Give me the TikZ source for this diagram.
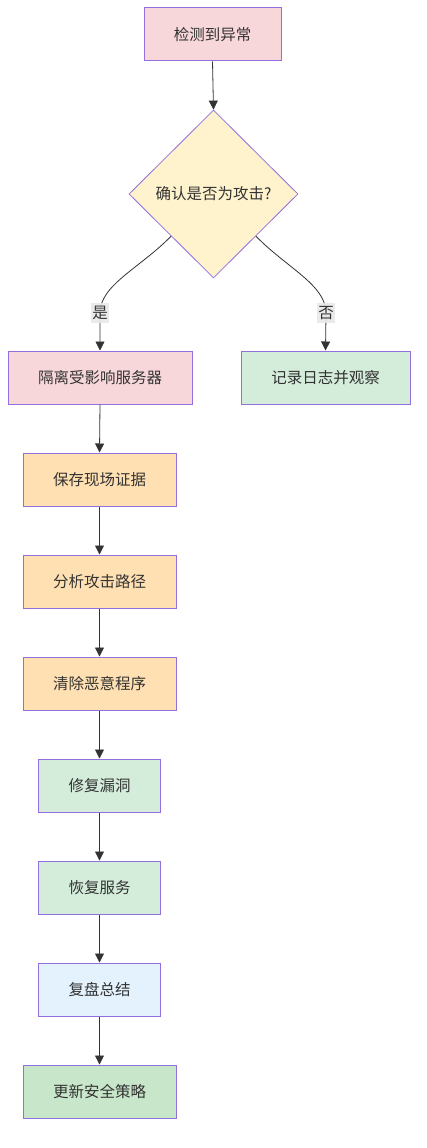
\documentclass[tikz,border=0pt]{standalone}
\usepackage{fontspec}
\setmainfont{Noto Sans CJK SC}
\usetikzlibrary{shapes.geometric,arrows.meta}
\definecolor{bord}{HTML}{9370DB}
\definecolor{txt}{HTML}{333333}
\definecolor{cpink}{HTML}{F8D7DA}
\definecolor{cyel}{HTML}{FFF3CD}
\definecolor{corange}{HTML}{FFE0B2}
\definecolor{cgreen}{HTML}{D4EDDA}
\definecolor{cblue}{HTML}{E3F2FD}
\definecolor{cgreen2}{HTML}{C8E6C9}
\definecolor{lblbg}{HTML}{E8E8E8}
\begin{document}
\begin{tikzpicture}[x=1pt,y=1pt,
  box/.style={draw=bord,line width=1pt,rectangle,minimum height=53pt,inner sep=0pt,
    font=\fontsize{15.5}{18}\selectfont,text=txt},
  dia/.style={draw=bord,line width=0.8pt,diamond,aspect=1,minimum width=169pt,minimum height=168pt,inner sep=0pt,
    fill=cyel,font=\fontsize{15.5}{18}\selectfont,text=txt},
  arr/.style={draw=txt,line width=0.8pt,-{Triangle[length=9pt,width=9pt]}},
  lbl/.style={fill=lblbg,fill opacity=0.9,text opacity=1,inner xsep=1.5pt,inner ysep=3pt,text=txt,font=\fontsize{15.5}{18}\selectfont}
]
\useasboundingbox (0,0) rectangle (426,-1148);
\node[box,fill=cpink,minimum width=137pt] (n1) at (212.5,-34.5) {检测到异常};
\node[dia] (d) at (213.5,-194) {确认是否为攻击?};
\node[box,fill=cpink,minimum width=184pt] (iso) at (100,-377.5) {隔离受影响服务器};
\node[box,fill=cgreen,minimum width=169pt] (log) at (325.5,-377.5) {记录日志并观察};
\node[box,fill=corange,minimum width=153pt] (save) at (99.5,-479.5) {保存现场证据};
\node[box,fill=corange,minimum width=153pt] (ana) at (99.5,-581.5) {分析攻击路径};
\node[box,fill=corange,minimum width=153pt] (clr) at (99.5,-683.5) {清除恶意程序};
\node[box,fill=cgreen,minimum width=122pt] (fix) at (99.5,-785.5) {修复漏洞};
\node[box,fill=cgreen,minimum width=122pt] (rec) at (99.5,-887.5) {恢复服务};
\node[box,fill=cblue,minimum width=122pt] (rev) at (99.5,-989.5) {复盘总结};
\node[box,fill=cgreen2,minimum width=153pt] (upd) at (99.5,-1091.5) {更新安全策略};
\coordinate (ly) at (100,-313);
\coordinate (ln) at (326,-313);
\draw[arr] (n1.south) -- (d.north);
\draw[arr] (d.south west) .. controls (140,-268) and (100,-285) .. (ly) -- (iso.north);
\draw[arr] (d.south east) .. controls (287,-268) and (326,-285) .. (ln) -- (log.north);
\node[lbl] at (ly) {是};
\node[lbl] at (ln) {否};
\draw[arr] (iso.south) -- (save.north);
\draw[arr] (save.south) -- (ana.north);
\draw[arr] (ana.south) -- (clr.north);
\draw[arr] (clr.south) -- (fix.north);
\draw[arr] (fix.south) -- (rec.north);
\draw[arr] (rec.south) -- (rev.north);
\draw[arr] (rev.south) -- (upd.north);
\end{tikzpicture}
\end{document}
